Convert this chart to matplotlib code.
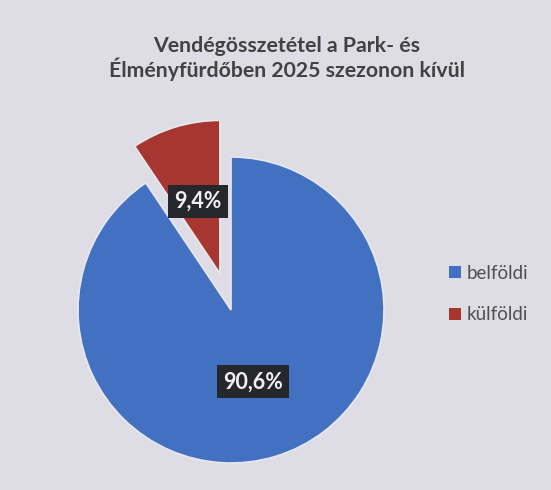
import numpy as np
import matplotlib.pyplot as plt
from matplotlib.patches import Patch

# data
labels = ['belföldi', 'külföldi']
shares = [90.6, 9.4]
label_texts = ['90,6%', '9,4%']
colors = ['#4271C1', '#A6362F']

title = 'Vendégösszetétel a Park- és\nÉlményfürdőben 2025 szezonon kívül'

bg = '#DEDDE5'
fig = plt.figure(figsize=(5.51, 4.90), dpi=100)
fig.patch.set_facecolor(bg)

# pie axes: centre at about (231, 310) px, radius 153 px
ax = fig.add_axes([31 / 551, (490 - 510) / 490, 400 / 551, 400 / 490])
ax.set_facecolor(bg)
wedges, _ = ax.pie(shares, colors=colors, startangle=90, counterclock=False,
                   explode=[0, 0.25], radius=1,
                   wedgeprops=dict(edgecolor='#E8E8EE', linewidth=1.2))
lim = 200 / 153
ax.set_xlim(-lim, lim)
ax.set_ylim(-lim, lim)
ax.set_aspect('equal')
ax.axis('off')

for w, txt, dist in zip(wedges, label_texts, [0.49, 0.49]):
    ang = np.deg2rad((w.theta1 + w.theta2) / 2)
    cx, cy = w.center
    ax.text(cx + dist * np.cos(ang), cy + dist * np.sin(ang), txt,
            ha='center', va='center', fontsize=15.5, fontweight='bold',
            color='#F0F0F0', family='Lato',
            bbox=dict(boxstyle='square,pad=0.28', fc='#26272D', ec='none'))

fig.text(0.52, 0.881, title, ha='center', va='center', fontsize=15.3,
         fontweight='bold', color='#424242', family='Lato', linespacing=1.08)

handles = [Patch(facecolor=c, edgecolor='none') for c in colors]
fig.legend(handles, labels, loc='center left', bbox_to_anchor=(0.785, 0.40),
           frameon=False, handlelength=0.62, handleheight=0.62,
           handletextpad=0.3, labelspacing=1.3, labelcolor='#505050',
           prop={'family': 'Lato', 'size': 13.5})

fig.savefig('out.png', dpi=100, facecolor=bg)
